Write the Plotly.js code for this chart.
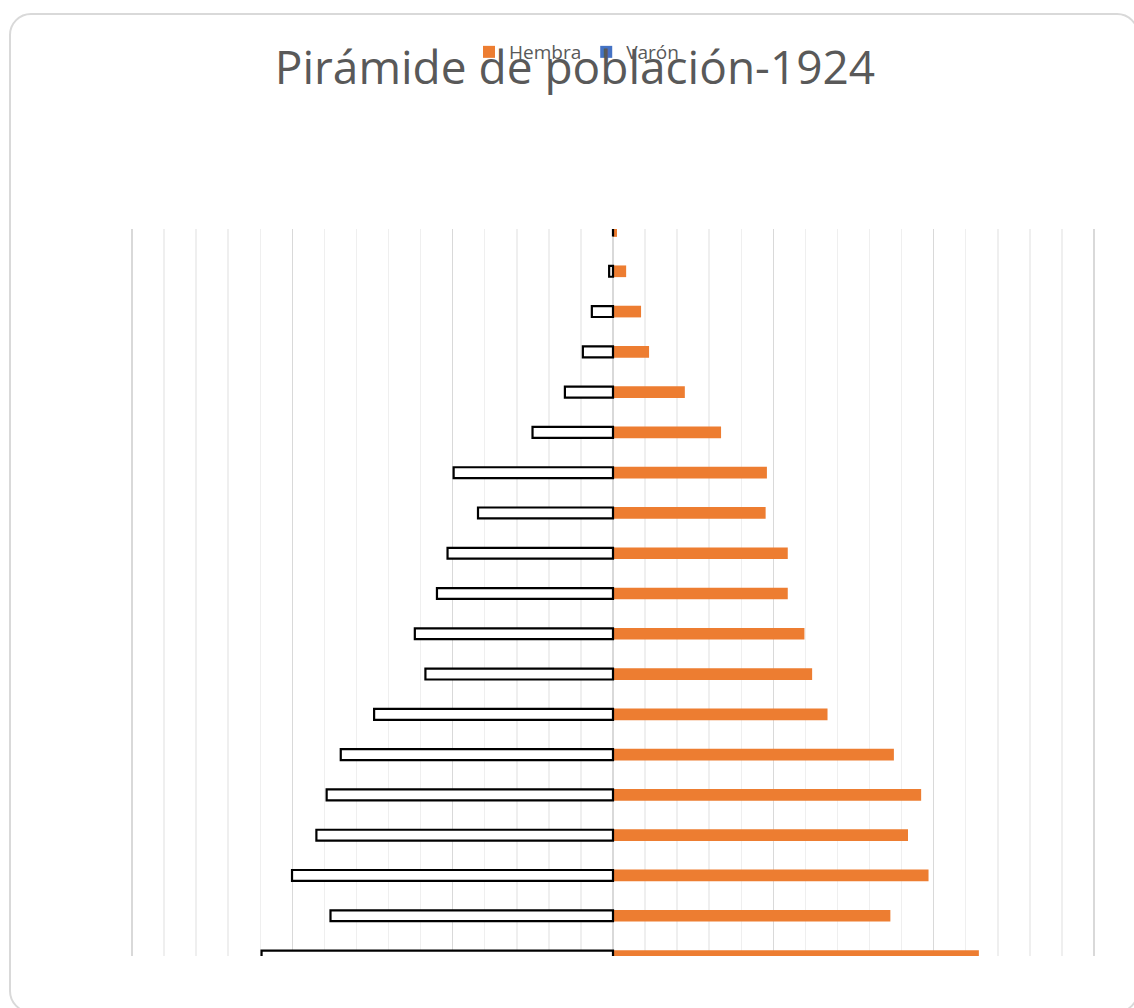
<!DOCTYPE html>
<html>
<head>
<meta charset="utf-8">
<script src="https://cdn.plot.ly/plotly-3.0.1.min.js"></script>
<style>
  html, body { margin: 0; padding: 0; background: #ffffff; overflow: hidden; }
  #card { position: absolute; left: 9px; top: 13px; width: 1130px; height: 1000px;
          border: 2px solid #d9d9d9; border-radius: 22px; background: #ffffff; box-sizing: border-box; }
  #chart { position: absolute; left: 0; top: 0; width: 1134px; height: 1008px; }
</style>
</head>
<body>
<div id="card"></div>
<div id="chart"></div>
<script>
// Age groups (bottom to top)
const ageGroups = ["0-4","5-9","10-14","15-19","20-24","25-29","30-34","35-39","40-44",
                   "45-49","50-54","55-59","60-64","65-69","70-74","75-79","80-84","85-89","90+"];
// Values listed from youngest (bottom) to oldest (top)
const hembra = [11.41, 8.65, 9.84, 9.20, 9.61, 8.76, 6.69, 6.21, 5.97, 5.45,
                5.45, 4.76, 4.80, 3.37, 2.24, 1.125, 0.875, 0.41, 0.125];
const varon  = [10.96, 8.81, 10.01, 9.25, 8.93, 8.49, 7.45, 5.85, 6.18, 5.49,
                5.16, 4.21, 4.97, 2.51, 1.50, 0.94, 0.66, 0.12, 0.0];

const seriesNames = ["Hembra", "Varón"];
const colors = { hembra: "#ED7D31", varon: "#4472C4" };

const traces = [
  {
    type: "bar", orientation: "h", name: seriesNames[0],
    y: ageGroups, x: hembra,
    width: 0.29,
    marker: { color: colors.hembra, line: { width: 0 } },
    showlegend: false,
    hoverinfo: "y+x"
  },
  {
    type: "bar", orientation: "h", name: seriesNames[1],
    y: ageGroups, x: varon.map(v => -v),
    width: 0.27,
    marker: { color: "#ffffff", line: { color: "#000000", width: 2.2 } },
    showlegend: false,
    hoverinfo: "y+x"
  },
  // legend entries (series colours)
  {
    type: "scatter", mode: "markers", name: seriesNames[0],
    x: [null], y: [null],
    marker: { color: colors.hembra, symbol: "square", size: 12 },
    showlegend: true
  },
  {
    type: "scatter", mode: "markers", name: seriesNames[1],
    x: [null], y: [null],
    marker: { color: colors.varon, symbol: "square", size: 12 },
    showlegend: true
  }
];

const layout = {
  width: 1134, height: 1008,
  paper_bgcolor: "rgba(0,0,0,0)",
  plot_bgcolor: "rgba(0,0,0,0)",
  margin: { l: 124, r: 32, t: 229, b: 52 },
  barmode: "overlay",
  font: { family: "Open Sans, sans-serif", color: "#595959" },
  title: {
    text: "Pirámide de población-1924",
    font: { family: "Open Sans, sans-serif", size: 46, color: "#595959" },
    x: 0.507, xref: "container", xanchor: "center",
    y: 1 - 68/1008, yref: "container", yanchor: "middle"
  },
  showlegend: true,
  legend: {
    orientation: "h",
    x: 469/1134, xref: "container", xanchor: "left",
    y: 1 - 52/1008, yref: "container", yanchor: "middle",
    bgcolor: "rgba(0,0,0,0)",
    font: { family: "Open Sans, sans-serif", size: 19, color: "#595959" },
    itemwidth: 30,
    traceorder: "normal"
  },
  xaxis: {
    range: [-15.25, 15.25],
    dtick: 5, tick0: 0,
    showgrid: true, gridcolor: "#d9d9d9", gridwidth: 1.5,
    minor: { dtick: 1, showgrid: true, gridcolor: "#efefef", gridwidth: 1.5 },
    zeroline: true, zerolinecolor: "#d9d9d9", zerolinewidth: 1.5,
    showticklabels: false, ticks: "", showline: false,
    fixedrange: true
  },
  yaxis: {
    type: "category",
    categoryorder: "array", categoryarray: ageGroups,
    range: [0, 18.05],
    showgrid: false, zeroline: false, showticklabels: false, ticks: "", showline: false,
    fixedrange: true
  }
};

Plotly.newPlot("chart", traces, layout, { displayModeBar: false, staticPlot: true });
</script>
</body>
</html>
